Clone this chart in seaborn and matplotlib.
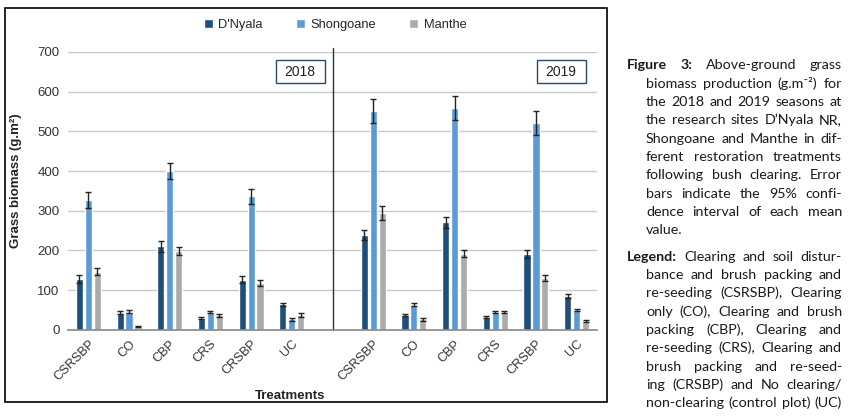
import numpy as np
import pandas as pd
import matplotlib
matplotlib.use("Agg")
import matplotlib.pyplot as plt
from matplotlib.patches import Rectangle
import seaborn as sns

# treatments and sites
treatments = ["CSRSBP", "CO", "CBP", "CRS", "CRSBP", "UC"]
years = ["2018", "2019"]
sites = ["D'Nyala", "Shongoane", "Manthe"]
site_colors = ["#1f4e79", "#5b9bd5", "#ababab"]

# mean grass biomass (g.m-2), same order as treatments
dnyala_2018 = [127, 43, 210, 30, 126, 64]
shongoane_2018 = [328, 45, 401, 44, 336, 26]
manthe_2018 = [146, 8, 199, 36, 117, 37]
dnyala_2019 = [238, 37, 271, 32, 191, 85]
shongoane_2019 = [552, 63, 558, 44, 522, 49]
manthe_2019 = [294, 26, 192, 44, 131, 22]

# 95% CI half widths
dnyala_2018_ci = [10, 4, 13, 2, 9, 4]
shongoane_2018_ci = [20, 4, 20, 2, 19, 4]
manthe_2018_ci = [9, 1, 10, 3, 8, 4]
dnyala_2019_ci = [13, 2, 14, 2, 10, 5]
shongoane_2019_ci = [30, 4, 30, 2, 30, 3]
manthe_2019_ci = [17, 3, 10, 3, 7, 2]

means = {
    ("2018", "D'Nyala"): (dnyala_2018, dnyala_2018_ci),
    ("2018", "Shongoane"): (shongoane_2018, shongoane_2018_ci),
    ("2018", "Manthe"): (manthe_2018, manthe_2018_ci),
    ("2019", "D'Nyala"): (dnyala_2019, dnyala_2019_ci),
    ("2019", "Shongoane"): (shongoane_2019, shongoane_2019_ci),
    ("2019", "Manthe"): (manthe_2019, manthe_2019_ci),
}

# long table, one slot per year/treatment plus an empty slot between the years
rows = []
for (yr, site), (vals, cis) in means.items():
    for t, v, c in zip(treatments, vals, cis):
        rows.append({"slot": yr + "|" + t, "site": site, "biomass": v, "ci": c})
df = pd.DataFrame(rows)

blank = "gap"
order = [years[0] + "|" + t for t in treatments] + [blank] + [years[1] + "|" + t for t in treatments]
tick_labels = treatments + [""] + treatments

sns.set_style("white")
fig = plt.figure(figsize=(8.5, 4.2), dpi=100)
ax = fig.add_axes([68 / 850, 1 - 329.7 / 420, 529 / 850, 277.7 / 420])

sns.barplot(data=df, x="slot", y="biomass", hue="site", order=order, hue_order=sites,
            palette=site_colors, saturation=1, width=0.66, gap=0.2, errorbar=None, ax=ax)

# error bars on top of the bars
ci_lookup = {(r.slot, r.site): r.ci for r in df.itertuples()}
for site, cont in zip(sites, ax.containers):
    for bar in cont:
        h = bar.get_height()
        if np.isnan(h):
            continue
        xc = bar.get_x() + bar.get_width() / 2
        key = order[int(round(xc))]
        ax.errorbar(xc, h, yerr=ci_lookup[(key, site)], fmt="none", ecolor="#222222",
                    elinewidth=1, capsize=2.2, capthick=1, zorder=4)

ax.set_ylim(0, 700)
ax.set_xlim(-0.5, len(order) - 0.5)
ax.set_yticks(range(0, 701, 100))
ax.tick_params(axis="y", labelsize=9.5, labelcolor="#333333", length=3, color="#bbbbbb", pad=3)
ax.set_xticks(range(len(order)))
ax.set_xticklabels(tick_labels, rotation=45, ha="right", rotation_mode="anchor",
                   fontsize=9.2, color="#333333")
ax.set_xticks(np.arange(-0.5, len(order)), minor=True)
ax.tick_params(axis="x", which="major", length=0, pad=6)
ax.tick_params(axis="x", which="minor", length=4, color="#888888", width=1)
ax.grid(axis="y", color="#c8c8c8", lw=1)
ax.set_axisbelow(True)
for s in ["top", "right", "left"]:
    ax.spines[s].set_visible(False)
ax.spines["bottom"].set_color("#888888")
ax.spines["bottom"].set_linewidth(1.2)

ax.set_xlabel("")
ax.set_ylabel("Grass biomass (g.m²)", fontsize=9.5, fontweight="bold", color="#222222")
ax.yaxis.set_label_coords(-0.087, 0.535)
fig.text(290 / 850, 1 - 396 / 420, "Treatments", fontsize=9.5, fontweight="bold",
         color="#222222", ha="center", va="center")

# divider between the two seasons
ax.axvline(order.index(blank), ymin=0, ymax=1.015, color="#333333", lw=1, clip_on=False)

# season boxes
for label, xc in zip(years, [0.4386, 0.932]):
    ax.add_patch(Rectangle((xc - 0.0463, 0.887), 0.0926, 0.0827, transform=ax.transAxes,
                           facecolor="white", edgecolor="#2f4b66", lw=1, zorder=5))
    ax.text(xc, 0.887 + 0.0413, label, transform=ax.transAxes, ha="center", va="center",
            fontsize=10, color="#222222", zorder=6)

# legend above the plot
handles, labels = ax.get_legend_handles_labels()
ax.get_legend().remove()
fig.legend(handles, labels, loc="center", bbox_to_anchor=(335 / 850, 1 - 25 / 420), ncol=3,
           frameon=False, handlelength=0.7, handleheight=0.7, handletextpad=0.4,
           columnspacing=2.6, fontsize=9.3)

for t in fig.texts + ax.texts + ax.get_xticklabels() + ax.get_yticklabels() + [ax.yaxis.label]:
    t.set_family(["Liberation Sans", "DejaVu Sans"])
for t in fig.legends[0].get_texts():
    t.set_family(["Liberation Sans", "DejaVu Sans"])

# outer frame round the chart
fig.add_artist(Rectangle((5 / 850, 18 / 420), 602 / 850, 394 / 420, transform=fig.transFigure,
                         fill=False, edgecolor="black", lw=1.2))

# caption on the right, justified line by line
caption = [
    ("Figure 3:", "Above-ground grass", 627, 65.3, True),
    ("", "biomass production (g.m⁻²) for", 646, 83.7, True),
    ("", "the 2018 and 2019 seasons at", 646, 102.0, True),
    ("", "the research sites D’Nyala NR,", 646, 120.3, True),
    ("", "Shongoane and Manthe in dif-", 646, 138.7, True),
    ("", "ferent restoration treatments", 646, 157.0, True),
    ("", "following bush clearing. Error", 646, 175.3, True),
    ("", "bars indicate the 95% confi-", 646, 193.7, True),
    ("", "dence interval of each mean", 646, 212.0, True),
    ("", "value.", 646, 230.3, False),
    ("Legend:", "Clearing and soil distur-", 627, 256.7, True),
    ("", "bance and brush packing and", 646, 275.0, True),
    ("", "re-seeding (CSRSBP), Clearing", 646, 293.3, True),
    ("", "only (CO), Clearing and brush", 646, 311.7, True),
    ("", "packing (CBP), Clearing and", 646, 330.0, True),
    ("", "re-seeding (CRS), Clearing and", 646, 348.3, True),
    ("", "brush packing and re-seed-", 646, 366.7, True),
    ("", "ing (CRSBP) and No clearing/", 646, 385.0, True),
    ("", "non-clearing (control plot) (UC)", 646, 403.3, True),
]
cap_font = ["Lato", "DejaVu Sans"]
cap_size = 10.3
right_edge = 842
renderer = fig.canvas.get_renderer()
space = 3.2
for bold_part, rest, x0, yc, justify in caption:
    words = []
    if bold_part:
        for w in bold_part.split():
            words.append((w, "bold"))
    for w in rest.split():
        words.append((w, "normal"))
    items = []
    for w, wt in words:
        t = fig.text(0, 1 - (yc + 4) / 420, w, fontsize=cap_size, family=cap_font,
                     fontweight=wt, color="#1a1a1a", va="baseline", ha="left")
        items.append(t)
    widths = [t.get_window_extent(renderer).width for t in items]
    if justify and len(items) > 1:
        gap = max((right_edge - x0 - sum(widths)) / (len(items) - 1), 2.0)
    else:
        gap = space
    x = x0
    for t, w in zip(items, widths):
        t.set_x(x / 850)
        x += w + gap

fig.savefig("out.png", dpi=100)
